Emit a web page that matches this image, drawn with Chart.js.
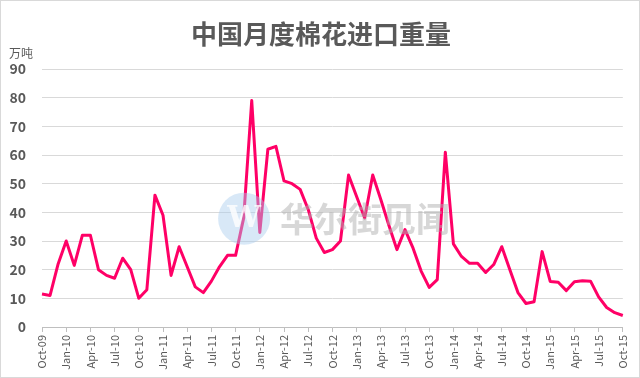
<!DOCTYPE html>
<html>
<head>
<meta charset="utf-8">
<script src="https://cdn.jsdelivr.net/npm/chart.js@4/dist/chart.umd.min.js"></script>
<style>
  html, body { margin: 0; padding: 0; background: #fff; }
  #wrap { width: 640px; height: 378px; box-sizing: border-box; border: 1px solid #d9d9d9; background: #fff; }
  canvas { display: block; }
</style>
</head>
<body>
<div id="wrap"><canvas id="c" width="638" height="376"></canvas></div>
<script>
// ---- data ----
const months = [
  'Oct-09','Nov-09','Dec-09','Jan-10','Feb-10','Mar-10','Apr-10','May-10','Jun-10','Jul-10','Aug-10','Sep-10',
  'Oct-10','Nov-10','Dec-10','Jan-11','Feb-11','Mar-11','Apr-11','May-11','Jun-11','Jul-11','Aug-11','Sep-11',
  'Oct-11','Nov-11','Dec-11','Jan-12','Feb-12','Mar-12','Apr-12','May-12','Jun-12','Jul-12','Aug-12','Sep-12',
  'Oct-12','Nov-12','Dec-12','Jan-13','Feb-13','Mar-13','Apr-13','May-13','Jun-13','Jul-13','Aug-13','Sep-13',
  'Oct-13','Nov-13','Dec-13','Jan-14','Feb-14','Mar-14','Apr-14','May-14','Jun-14','Jul-14','Aug-14','Sep-14',
  'Oct-14','Nov-14','Dec-14','Jan-15','Feb-15','Mar-15','Apr-15','May-15','Jun-15','Jul-15','Aug-15','Sep-15',
  'Oct-15'
];
const cottonImports = [
  11.5, 11, 22, 30, 21.5, 32, 32, 20, 18, 17, 24, 20,
  10, 13, 46, 39, 18, 28, 21, 14, 12, 16, 21, 25,
  25, 38, 79, 33, 62, 63, 51, 50, 48, 41, 31, 26,
  27, 30, 53, 45.5, 38, 53, 44.5, 35.5, 27, 34, 27.5, 19.5,
  13.8, 16.5, 61, 29, 24.6, 22.2, 22.2, 19, 21.8, 28, 20, 12,
  8.2, 8.8, 26.3, 15.9, 15.6, 12.7, 15.8, 16.1, 16, 10.5, 6.8, 5,
  4
];
const yTicks = [0, 10, 20, 30, 40, 50, 60, 70, 80, 90];
const titleText = '中国月度棉花进口重量';
const unitText = '万吨';
const watermarkText = '华尔街见闻';

const cjk = '"Noto Sans CJK SC", "Noto Sans", sans-serif';

const textPlugin = {
  id: 'texts',
  afterDraw(chart) {
    const ctx = chart.ctx;
    ctx.save();
    ctx.font = 'bold 26px ' + cjk;
    ctx.fillStyle = '#595959';
    ctx.textAlign = 'center';
    ctx.textBaseline = 'middle';
    ctx.fillText(titleText, 320, 33);
    ctx.font = '12px ' + cjk;
    ctx.textAlign = 'left';
    ctx.fillText(unitText, 8, 52);
    ctx.restore();
  }
};

const watermarkPlugin = {
  id: 'watermark',
  afterDatasetsDraw(chart) {
    const ctx = chart.ctx;
    const a = chart.chartArea;
    const cx = a.left + (a.right - a.left) * 0.348;
    const cy = a.top + (a.bottom - a.top) * 0.58;
    ctx.save();
    ctx.globalAlpha = 0.45;
    ctx.fillStyle = '#a9cdee';
    ctx.beginPath();
    ctx.arc(cx, cy, 26, 0, Math.PI * 2);
    ctx.fill();
    ctx.globalAlpha = 0.8;
    ctx.fillStyle = '#ffffff';
    ctx.font = 'bold 30px "DejaVu Serif", serif';
    ctx.textAlign = 'center';
    ctx.textBaseline = 'middle';
    ctx.fillText('W', cx, cy + 1);
    ctx.globalAlpha = 0.5;
    ctx.fillStyle = '#b0b0b0';
    ctx.font = 'bold 34px ' + cjk;
    ctx.textAlign = 'left';
    ctx.fillText(watermarkText, cx + 36, cy);
    ctx.restore();
  }
};

new Chart(document.getElementById('c'), {
  type: 'line',
  data: {
    labels: months,
    datasets: [{
      data: cottonImports,
      borderColor: '#FF0066',
      backgroundColor: '#FF0066',
      borderWidth: 3,
      pointRadius: 0,
      tension: 0,
      borderJoinStyle: 'round',
      fill: false
    }]
  },
  options: {
    responsive: false,
    animation: false,
    layout: { padding: { top: 68, right: 15, bottom: 0, left: 0 } },
    plugins: {
      legend: { display: false },
      tooltip: { enabled: false },
      title: { display: false }
    },
    scales: {
      x: {
        type: 'category',
        offset: false,
        afterFit(s) { s.height = 50; },
        grid: {
          display: true,
          drawOnChartArea: false,
          drawTicks: true,
          tickLength: 5,
          color: '#bfbfbf'
        },
        border: { display: true, color: '#bfbfbf', width: 1 },
        ticks: {
          autoSkip: false,
          minRotation: 90,
          maxRotation: 90,
          padding: 3,
          color: '#595959',
          font: { family: cjk, size: 11 },
          callback(v, i) { return i % 3 === 0 ? months[i] : null; }
        }
      },
      y: {
        min: 0,
        max: 90,
        afterFit(s) { s.width = 41; },
        afterBuildTicks(s) { s.ticks = yTicks.map(v => ({ value: v })); },
        grid: { color: '#d9d9d9', lineWidth: 1, drawTicks: false },
        border: { display: false },
        ticks: {
          padding: 16,
          color: '#595959',
          font: { family: cjk, size: 14, weight: 'bold' }
        }
      }
    }
  },
  plugins: [textPlugin, watermarkPlugin]
});
</script>
</body>
</html>
